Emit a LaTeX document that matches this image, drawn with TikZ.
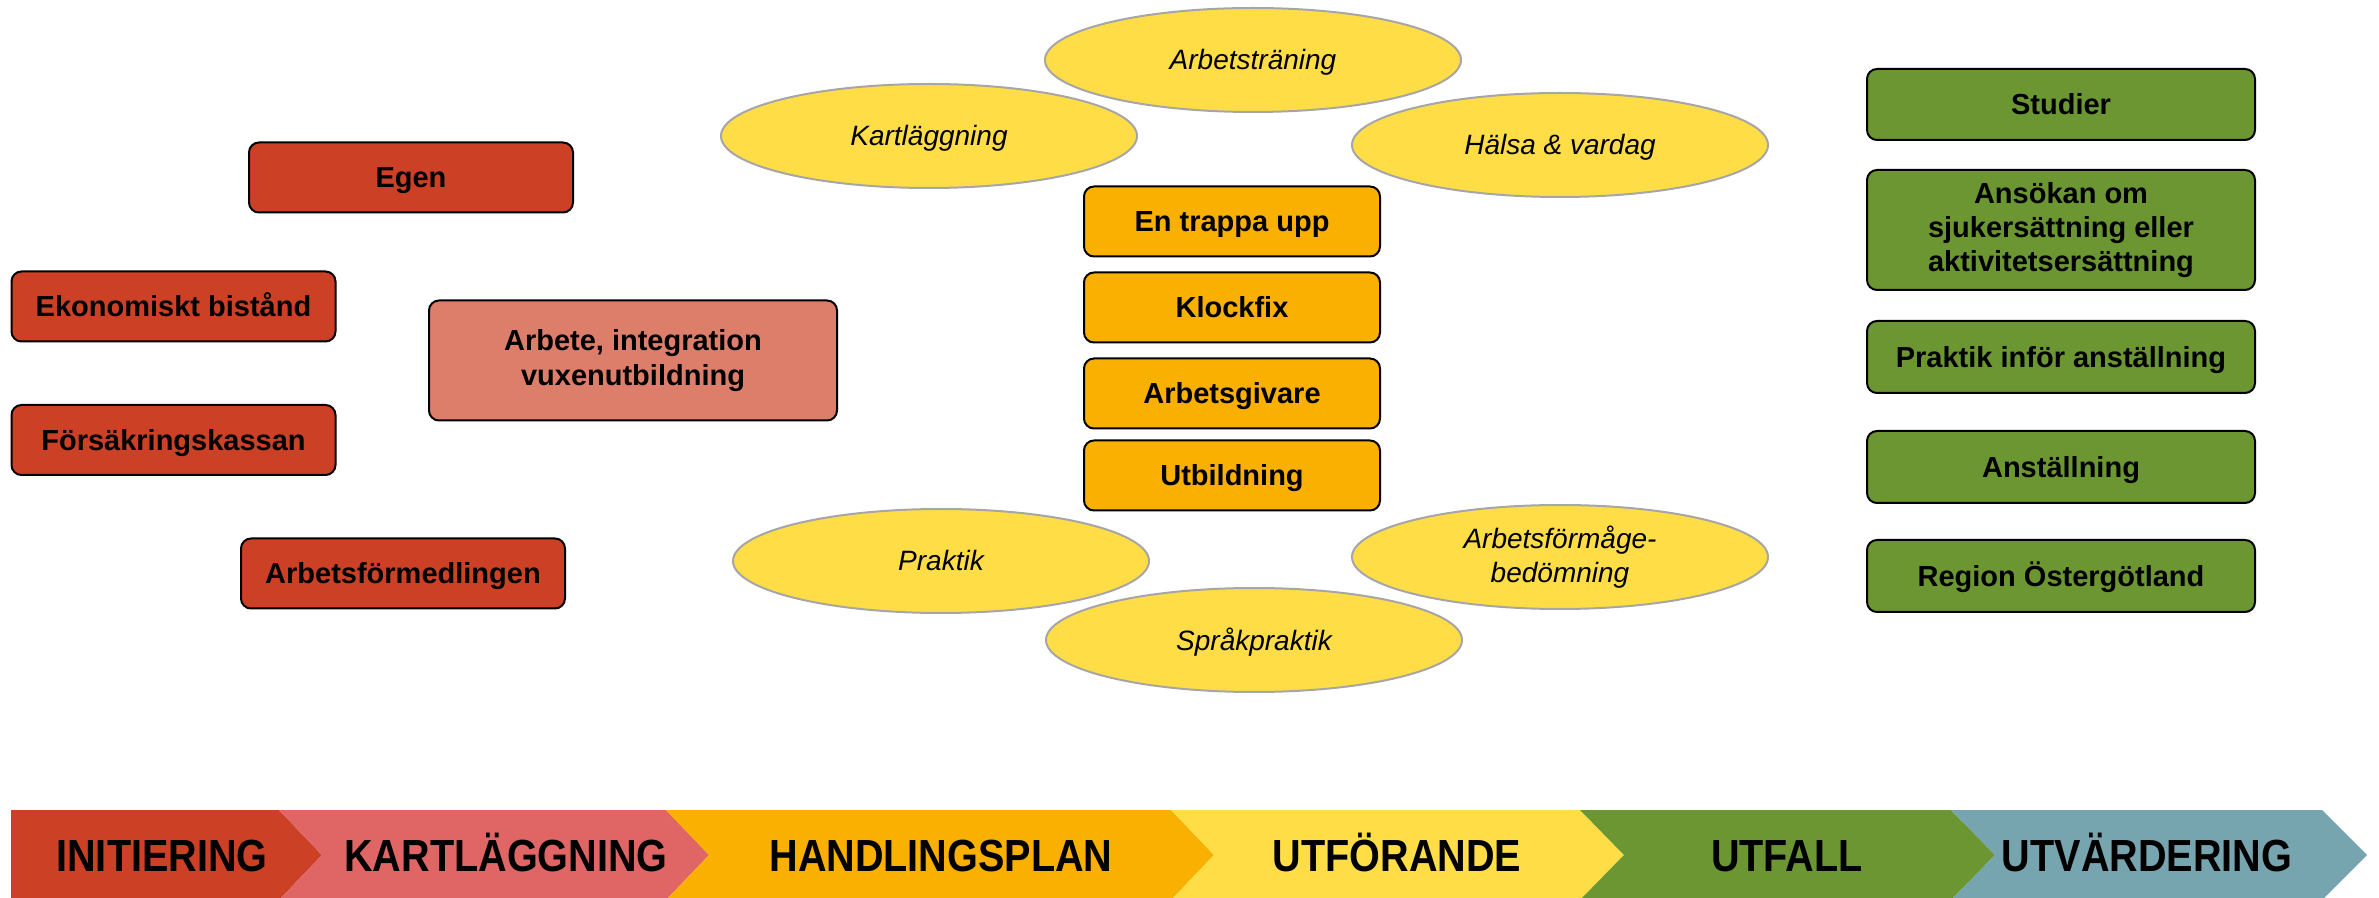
\documentclass[tikz,border=0pt]{standalone}
\usepackage{fontspec}
\setmainfont{Liberation Sans}
\newfontfamily\bandfont[FakeStretch=0.88]{Liberation Sans}
\usetikzlibrary{positioning,shapes.geometric}

\definecolor{redberry}{HTML}{CC4125}
\definecolor{lightberry}{HTML}{DD7E6B}
\definecolor{phasepink}{HTML}{E06666}
\definecolor{planorange}{HTML}{F9B000}
\definecolor{actyellow}{HTML}{FFDD47}
\definecolor{outgreen}{HTML}{6B9632}
\definecolor{evalblue}{HTML}{76A5AF}
\definecolor{ellgray}{HTML}{A6A6A6}

\tikzset{
  box/.style={draw=black, line width=1pt, rounded corners=5pt, align=center, inner sep=0pt,
    text height=10.4pt, text depth=0pt, font=\bfseries\fontsize{14.5pt}{17pt}\selectfont},
  initbox/.style={box, fill=redberry, minimum width=162pt, minimum height=35pt},
  mapbox/.style={box, fill=lightberry, minimum width=204pt, minimum height=60pt},
  planbox/.style={box, fill=planorange, minimum width=148pt, minimum height=35pt},
  outbox/.style={box, fill=outgreen, minimum width=194pt, minimum height=36pt},
  actell/.style={ellipse, draw=ellgray, line width=1pt, fill=actyellow, minimum width=208pt,
    minimum height=52pt, inner sep=0pt, align=center, text height=10pt, text depth=0pt,
    font=\itshape\fontsize{14pt}{17pt}\selectfont},
  natural/.style={text height={}, text depth={}},
  phase/.style={anchor=base, font=\bandfont\bfseries\fontsize{22.5pt}{26pt}\selectfont}
}

\begin{document}
\begin{tikzpicture}[x=0.5pt,y=-0.5pt]
	\useasboundingbox (0,0) rectangle (2379,898);
	% initiering
	\node (egen) [initbox] at (411,177.5) {Egen};
	\node (ekon) [initbox] at (173.5,306.5) {Ekonomiskt bistånd};
	\node (fk) [initbox] at (173.5,440) {Försäkringskassan};
	\node (af) [initbox] at (403,573.5) {Arbetsförmedlingen};
	\node (aiv) [mapbox, natural, font=\bfseries\fontsize{14.5pt}{17.5pt}\selectfont] at (633,360.5) {Arbete, integration\\vuxenutbildning};
	% handlingsplan
	\node (etu) [planbox] at (1232,221.5) {En trappa upp};
	\node (kf) [planbox, below=7pt of etu] {Klockfix};
	\node (ag) [planbox, below=7pt of kf] {Arbetsgivare};
	\node (utb) [planbox, below=5pt of ag] {Utbildning};
	% aktiviteter
	\node (at) [actell] at (1253,60) {Arbetsträning};
	\node (kl) [actell] at (929,136) {Kartläggning};
	\node (hv) [actell] at (1560,145) {Hälsa \& vardag};
	\node (pr) [actell] at (941,561) {Praktik};
	\node (afb) [actell, natural] at (1560,557) {Arbetsförmåge-\\bedömning};
	\node (sp) [actell] at (1254,640) {Språkpraktik};
	% utfall
	\node (stu) [outbox, minimum height=35.5pt] at (2061,104.5) {Studier};
	\node (ans) [outbox, natural, minimum height=60pt, below=14pt of stu] {Ansökan om\\sjukersättning eller\\aktivitetsersättning};
	\node (pia) [outbox, below=14.5pt of ans] {Praktik inför anställning};
	\node (anst) [outbox, below=18pt of pia] {Anställning};
	\node (reg) [outbox, below=17.5pt of anst] {Region Östergötland};
	% faser
	\fill[redberry] (11,810) -- (279,810) -- (322,855) -- (279,900) -- (11,900) -- cycle;
	\fill[phasepink] (279,810) -- (666,810) -- (709,855) -- (666,900) -- (279,900) -- (322,855) -- cycle;
	\fill[planorange] (666,810) -- (1171,810) -- (1214,855) -- (1171,900) -- (666,900) -- (709,855) -- cycle;
	\fill[actyellow] (1171,810) -- (1580,810) -- (1624,855) -- (1580,900) -- (1171,900) -- (1214,855) -- cycle;
	\fill[outgreen] (1580,810) -- (1951,810) -- (1995,855) -- (1951,900) -- (1580,900) -- (1624,855) -- cycle;
	\fill[evalblue] (1951,810) -- (2322,810) -- (2367,855) -- (2322,900) -- (1951,900) -- (1995,855) -- cycle;
	\node (p1) [phase] at (162,871) {INITIERING};
	\node (p2) [phase] at (506,871) {KARTLÄGGNING};
	\node (p3) [phase] at (941,871) {HANDLINGSPLAN};
	\node (p4) [phase] at (1397,871) {UTFÖRANDE};
	\node (p5) [phase] at (1787,871) {UTFALL};
	\node (p6) [phase] at (2147,871) {UTVÄRDERING};
\end{tikzpicture}
\end{document}
